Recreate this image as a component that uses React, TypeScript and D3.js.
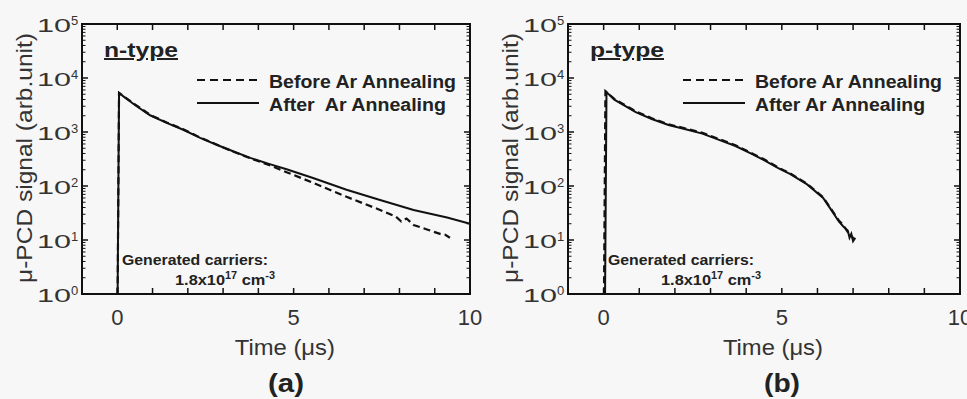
import React from 'react'
import * as d3 from 'd3'

// panel (a) n-type
const timeAAfter = [0, 0.01, 0.05, 0.5, 0.93, 1.4, 1.87, 2.35, 2.83, 3.3, 3.77, 4.3, 4.8, 5.55, 6.5, 7.45, 8.4, 9.35, 10]
const sigAAfter = [1, 1, 5250, 3160, 2040, 1480, 1100, 776, 575, 436, 331, 257, 204, 141, 85, 55, 36, 26, 20]
const timeABefore = [0, 0.01, 0.05, 0.5, 0.93, 1.4, 1.87, 2.35, 2.83, 3.3, 3.77, 4.3, 4.8, 5.55, 6.5, 7.45, 7.9, 8.05, 8.2, 8.4, 8.8, 9.0, 9.15, 9.3, 9.43]
const sigABefore = [1, 1, 5300, 3250, 2080, 1500, 1120, 790, 580, 430, 325, 245, 180, 115, 63, 36, 27, 22, 25, 19, 15.5, 14, 13, 12.5, 11]

// panel (b) p-type
const timeBAfter = [0.03, 0.04, 0.08, 0.3, 0.9, 1.35, 1.82, 2.3, 2.77, 3.22, 3.7, 4.17, 4.5, 4.9, 5.24, 5.71, 6.16, 6.4, 6.6, 6.72, 6.85, 6.9, 6.95, 7.0, 7.06]
const sigBAfter = [1, 1, 5500, 3980, 2340, 1740, 1350, 1120, 933, 724, 550, 389, 302, 214, 166, 107, 60, 35, 22, 18, 15, 11, 13, 9.5, 11]
const timeBBefore = [0, 0.01, 0.05, 0.3, 0.9, 1.35, 1.82, 2.3, 2.77, 3.22, 3.7, 4.17, 4.5, 4.9, 5.24, 5.71, 6.16, 6.4, 6.6, 6.72, 6.85, 6.95, 7.04]
const sigBBefore = [1, 1, 5700, 4100, 2420, 1800, 1390, 1160, 965, 750, 570, 400, 312, 220, 170, 110, 62, 36, 23, 19, 14, 12, 10]

const yDecades = [0, 1, 2, 3, 4, 5]
const xMajor = [0, 1, 2, 3, 4, 5, 6, 7, 8, 9]
const xLabels = [0, 5, 10]

const font = '"Liberation Sans", Arial, sans-serif'

type PanelProps = {
  left: number
  right: number
  typeLabel: string
  tag: string
  tagX: number
  tAfter: number[]
  sAfter: number[]
  tBefore: number[]
  sBefore: number[]
  afterLabel: string
  afterLen: number
}

const Panel = (p: PanelProps) => {
  const top = 24
  const bottom = 294
  const x = d3.scaleLinear().domain([-1, 10]).range([p.left, p.right])
  const y = d3.scaleLog().domain([1, 1e5]).range([bottom, top])
  const line = d3
    .line<[number, number]>()
    .x(d => x(d[0]))
    .y(d => y(d[1]))
  const after = p.tAfter.map((t, i) => [t, p.sAfter[i]] as [number, number])
  const before = p.tBefore.map((t, i) => [t, p.sBefore[i]] as [number, number])

  const minor: number[] = []
  yDecades.slice(0, -1).forEach(e => {
    for (let k = 2; k < 10; k++) minor.push(k * Math.pow(10, e))
  })

  const lx = p.left + 115
  return (
    <g fontFamily={font}>
      {/* curves */}
      <path d={line(before) || ''} fill="none" stroke="#111" strokeWidth={2.2} strokeDasharray="7,4" />
      <path d={line(after) || ''} fill="none" stroke="#111" strokeWidth={2} />

      {/* frame */}
      <rect x={p.left} y={top} width={p.right - p.left} height={bottom - top} fill="none" stroke="#111" strokeWidth={2} />
      {xMajor.map(t => (
        <g key={'x' + t}>
          <line x1={x(t)} x2={x(t)} y1={top} y2={top + 6} stroke="#111" strokeWidth={1.5} />
          <line x1={x(t)} x2={x(t)} y1={bottom} y2={bottom - 6} stroke="#111" strokeWidth={1.5} />
        </g>
      ))}
      {yDecades.map(e => (
        <g key={'y' + e}>
          <line x1={p.left} x2={p.left + 6} y1={y(Math.pow(10, e))} y2={y(Math.pow(10, e))} stroke="#111" strokeWidth={1.5} />
          <line x1={p.right} x2={p.right - 6} y1={y(Math.pow(10, e))} y2={y(Math.pow(10, e))} stroke="#111" strokeWidth={1.5} />
          <text x={p.left - 45} y={y(Math.pow(10, e)) + 8} fontSize={19} fill="#333" textLength={34} lengthAdjust="spacingAndGlyphs">
            10
          </text>
          <text x={p.left - 11} y={y(Math.pow(10, e)) + 1} fontSize={13} fill="#333">
            {e}
          </text>
        </g>
      ))}
      {minor.map(v => (
        <g key={'m' + v}>
          <line x1={p.left} x2={p.left + 3.5} y1={y(v)} y2={y(v)} stroke="#111" strokeWidth={1} />
          <line x1={p.right} x2={p.right - 3.5} y1={y(v)} y2={y(v)} stroke="#111" strokeWidth={1} />
        </g>
      ))}

      {xLabels.map(t => (
        <text key={'xl' + t} x={x(t)} y={325} textAnchor="middle" fontSize={22} fill="#333">
          {t}
        </text>
      ))}
      <text x={x(4.75)} y={355} textAnchor="middle" fontSize={22} fill="#333" textLength={100} lengthAdjust="spacingAndGlyphs">
        Time (μs)
      </text>
      <text x={p.tagX} y={392} textAnchor="middle" fontSize={26} fontWeight="bold" fill="#222" textLength={36} lengthAdjust="spacingAndGlyphs">
        {p.tag}
      </text>
      <text
        transform={`translate(${p.left - 50},158) rotate(-90)`}
        textAnchor="middle"
        fontSize={22}
        fill="#333"
        textLength={250}
        lengthAdjust="spacingAndGlyphs"
      >
        μ-PCD signal (arb.unit)
      </text>

      <text x={p.left + 22} y={57} fontSize={20} fontWeight="bold" fill="#222" textDecoration="underline" textLength={74} lengthAdjust="spacingAndGlyphs">
        {p.typeLabel}
      </text>

      {/* legend */}
      <line x1={lx} x2={lx + 62} y1={80} y2={80} stroke="#111" strokeWidth={2} strokeDasharray="8,5" />
      <text x={lx + 72} y={88} fontSize={18} fontWeight="bold" fill="#222" textLength={187} lengthAdjust="spacingAndGlyphs">
        Before Ar Annealing
      </text>
      <line x1={lx} x2={lx + 62} y1={103} y2={103} stroke="#111" strokeWidth={2} />
      <text x={lx + 72} y={111} fontSize={18} fontWeight="bold" fill="#222" style={{ whiteSpace: 'pre' }} textLength={p.afterLen} lengthAdjust="spacingAndGlyphs">
        {p.afterLabel}
      </text>

      <text x={p.left + 40} y={265} fontSize={15} fontWeight="bold" fill="#222" textLength={146} lengthAdjust="spacingAndGlyphs">
        Generated carriers:
      </text>
      <text x={p.left + 93} y={285} fontSize={15} fontWeight="bold" fill="#222" textLength={100} lengthAdjust="spacingAndGlyphs">
        1.8x10<tspan dy={-6} fontSize={10}>17</tspan>
        <tspan dy={6}> cm</tspan>
        <tspan dy={-6} fontSize={10}>-3</tspan>
      </text>
    </g>
  )
}

export default function App() {
  return (
    <div style={{ position: 'fixed', left: 0, top: 0 }}>
      <svg width={967} height={399} style={{ display: 'block' }}>
        <rect width={967} height={399} fill="#f7f7f7" />
        <Panel
          left={82}
          right={470}
          typeLabel="n-type"
          tag="(a)"
          tagX={286}
          tAfter={timeAAfter}
          sAfter={sigAAfter}
          tBefore={timeABefore}
          sBefore={sigABefore}
          afterLabel="After  Ar Annealing"
          afterLen={177}
        />
        <Panel
          left={568}
          right={960}
          typeLabel="p-type"
          tag="(b)"
          tagX={782}
          tAfter={timeBAfter}
          sAfter={sigBAfter}
          tBefore={timeBBefore}
          sBefore={sigBBefore}
          afterLabel="After Ar Annealing"
          afterLen={170}
        />
      </svg>
    </div>
  )
}
